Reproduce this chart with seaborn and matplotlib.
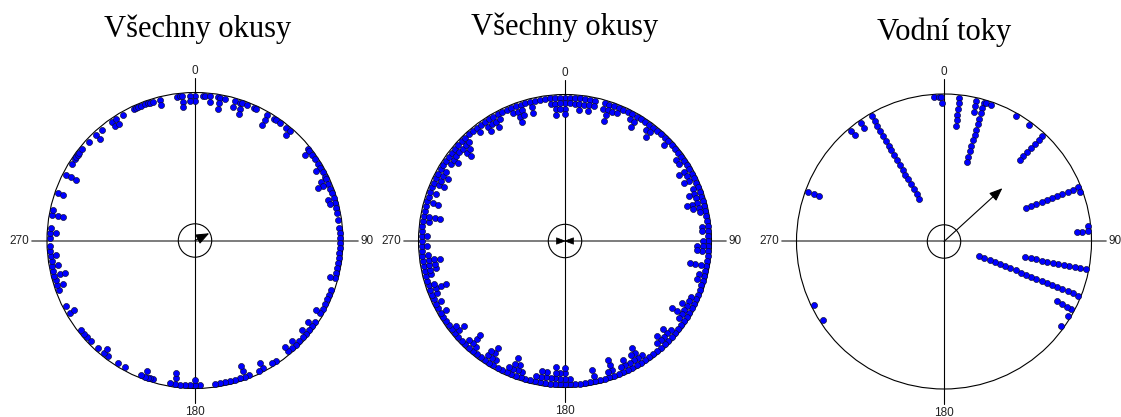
import numpy as np
import pandas as pd
import matplotlib.pyplot as plt
import matplotlib.patches as mpatches
import seaborn as sns

# directions in degrees (clockwise from north) and number of stacked dots
p1_angles = [0, 3, 4, 6, 9, 10, 12, 16, 18, 19, 21, 24, 25, 30, 33, 34, 36, 39, 41,
             51, 52, 54, 56, 58, 60, 62, 64, 65, 67, 69, 71, 73, 75, 77, 79, 82, 85, 87, 89,
             91, 93, 95, 97, 99, 101, 103, 105, 110, 112, 114, 116, 118, 120, 124, 126,
             128, 130, 132, 134, 136, 138, 140, 146, 148, 152, 154, 158, 160, 162, 164,
             166, 168, 170, 172, 178, 180, 182, 184, 186, 188, 190, 197, 198, 199, 200,
             202, 209, 212, 217, 219, 222, 226, 228, 230, 232, 240, 243, 250, 252, 254,
             256, 258, 260, 262, 264, 266, 268, 271, 273, 275, 280, 282, 289, 297, 302,
             304, 305, 306, 307, 309, 313, 317, 320, 325, 327, 330, 335, 336, 337, 338,
             340, 341, 342, 343, 346, 353, 354, 355, 358]
p1_counts = [2, 1, 1, 2, 1, 3, 1, 2, 1, 3, 1, 1, 1, 3, 1, 1, 1, 1, 2,
             1, 2, 1, 1, 1, 2, 1, 1, 2, 3, 1, 1, 2, 2, 1, 1, 1, 1, 1, 1,
             1, 1, 1, 1, 1, 1, 1, 2, 1, 1, 1, 1, 1, 2, 1, 2,
             1, 2, 1, 1, 2, 1, 2, 1, 1, 2, 1, 1, 3, 1, 1,
             1, 1, 1, 1, 1, 2, 1, 1, 1, 3, 1, 1, 1, 1, 2,
             1, 1, 1, 1, 2, 1, 1, 1, 1, 1, 2, 1, 1, 2, 1,
             3, 1, 2, 1, 2, 1, 1, 1, 2, 1, 3, 1, 2, 3, 1,
             1, 1, 1, 1, 1, 1, 2, 1, 2, 2, 1, 1, 1, 1, 1,
             1, 1, 1, 1, 2, 1, 1, 3, 2]

p2_angles = [0, 2, 4, 6, 8, 10, 12, 16, 18, 20, 22, 24, 26, 28, 30, 32, 34, 36, 38,
             40, 42, 44, 46, 48, 50, 52, 54, 56, 58, 60, 62, 64, 66, 68, 70, 72, 74, 76,
             78, 80, 82, 84, 86, 88, 90, 92, 94, 96, 98, 100, 102, 104, 106, 108, 110,
             112, 114, 116, 118, 120, 122, 124, 126, 128, 130, 132, 134, 136, 138, 140,
             142, 144, 146, 148, 150, 152, 154, 156, 158, 160, 162, 164, 166, 168, 170,
             172, 174, 176, 178, 180, 182, 184, 186, 188, 190, 192, 194, 196, 198, 200,
             202, 204, 206, 208, 210, 212, 214, 216, 218, 220, 222, 224, 226, 228, 230,
             232, 234, 236, 238, 240, 242, 244, 246, 248, 250, 252, 254, 256, 258, 260,
             262, 264, 266, 268, 270, 272, 274, 276, 278, 280, 282, 284, 286, 288, 290,
             292, 294, 296, 298, 300, 302, 304, 306, 308, 310, 312, 314, 316, 318, 320,
             322, 324, 326, 328, 330, 332, 334, 336, 338, 340, 342, 344, 346, 348, 350,
             352, 354, 356, 358]
p2_counts = [4, 2, 2, 3, 2, 3, 2, 2, 4, 2, 2, 1, 1, 2, 3, 1, 1, 2, 3,
             1, 1, 1, 2, 1, 1, 1, 2, 2, 1, 3, 2, 3, 1, 2, 3, 2, 4, 3,
             2, 1, 1, 2, 2, 1, 2, 3, 3, 1, 1, 4, 1, 2, 2, 1, 1,
             1, 2, 2, 3, 2, 4, 2, 1, 1, 2, 3, 2, 3, 2, 1,
             1, 1, 2, 4, 3, 2, 3, 2, 1, 4, 2, 1, 1, 3, 1,
             1, 1, 1, 2, 4, 3, 4, 2, 3, 3, 2, 1, 1, 2, 3,
             4, 2, 1, 1, 2, 4, 3, 1, 1, 2, 4, 2, 1, 1, 3,
             2, 1, 1, 1, 2, 1, 2, 1, 2, 4, 2, 1, 2, 3, 3,
             4, 2, 1, 2, 1, 2, 1, 1, 2, 4, 1, 1, 3, 1, 2,
             1, 3, 2, 3, 2, 1, 2, 3, 2, 2, 4, 3, 2, 1, 1,
             2, 1, 3, 2, 3, 2, 1, 1, 2, 4, 3, 1, 3, 1, 1,
             1, 2, 4, 3]

p3_angles = [356, 358, 359, 6, 13, 16, 17, 19, 30, 36, 43, 68, 70, 84, 86, 101, 112,
             118, 121, 126, 237, 244, 290, 320, 325, 330]
p3_counts = [1, 1, 2, 6, 3, 12, 1, 1, 1, 1, 7, 11, 1, 1, 3, 12, 20,
             4, 1, 1, 1, 1, 3, 2, 2, 18]

titles = ['Všechny okusy', 'Všechny okusy', 'Vodní toky']
tick_labels = ['0', '90', '180', '270']
# mean vectors: direction (deg), length relative to radius
mean_dirs = [[63], [90, 270], [47.6]]
mean_lens = [[0.108], [0.0, 0.0], [0.536]]

W, H = 1121, 417
centers = [(195, 240.5), (565, 241), (944, 241.5)]
radii = [148, 146.5, 147.5]
title_pos = [(198, 37), (565, 35), (944, 40)]
dot_d = 5.6
step = 5.6

sns.set_style('white')
fig = plt.figure(figsize=(W / 100, H / 100), dpi=100)
fig.patch.set_facecolor('white')

panels = [(p1_angles, p1_counts), (p2_angles, p2_counts), (p3_angles, p3_counts)]

for i, (angles, counts) in enumerate(panels):
    cx, cy = centers[i]
    R = radii[i]
    half = 1.25 * R
    ax = fig.add_axes([(cx - half) / W, (H - cy - half) / H, 2 * half / W, 2 * half / H])
    ax.set_xlim(-1.25, 1.25)
    ax.set_ylim(-1.25, 1.25)
    ax.axis('off')

    rows = []
    for a, n in zip(angles, counts):
        t = np.deg2rad(a)
        for k in range(n):
            r = 1 - (dot_d / 2 + 0.3 + k * step) / R
            rows.append({'x': r * np.sin(t), 'y': r * np.cos(t)})
    df = pd.DataFrame(rows)

    # crosshair and circles
    ax.plot([-1.1, 1.1], [0, 0], color='0.4', lw=1.2, zorder=1)
    ax.plot([0, 0], [-1.1, 1.1], color='black', lw=0.8, zorder=1)
    ax.add_patch(mpatches.Circle((0, 0), 1, fill=False, ec='black', lw=0.8, zorder=1))
    ax.add_patch(mpatches.Circle((0, 0), 16.7 / R, fill=False, ec='black', lw=0.8, zorder=1))

    sns.scatterplot(data=df, x='x', y='y', ax=ax, s=19, color='#0000ff',
                    edgecolor='#0a0a30', linewidth=0.45, legend=False, zorder=3)

    # mean vector(s)
    if i == 1:
        # axial mean: two heads meeting at the centre
        hl, hw = 8.5 / R, 3.2 / R
        for d in mean_dirs[i]:
            s = np.sin(np.deg2rad(d))
            tri = [(0, 0), (-s * hl, hw), (-s * hl, -hw)]
            ax.add_patch(mpatches.Polygon(tri, closed=True, fc='black', ec='black',
                                          lw=0.5, zorder=4))
    else:
        for d, L in zip(mean_dirs[i], mean_lens[i]):
            t = np.deg2rad(d)
            ax.annotate('', xy=(L * np.sin(t), L * np.cos(t)), xytext=(0, 0),
                        arrowprops=dict(arrowstyle='-|>,head_length=0.4,head_width=0.16',
                                        mutation_scale=20, color='black', lw=0.8,
                                        shrinkA=0, shrinkB=0), zorder=4)

    lab_kw = dict(fontsize=8.5, family='Liberation Sans', color='#222222')
    ax.text(0, 1.147, tick_labels[0], ha='center', va='center', **lab_kw)
    ax.text(1.115, 0, tick_labels[1], ha='left', va='center', **lab_kw)
    ax.text(0, -1.16, tick_labels[2], ha='center', va='center', **lab_kw)
    ax.text(-1.12, 0, tick_labels[3], ha='right', va='center', **lab_kw)

    tx, ty = title_pos[i]
    fig.text(tx / W, 1 - ty / H, titles[i], ha='center', va='baseline',
             fontsize=22, family='Liberation Serif', color='black')

fig.savefig('out.png', dpi=100, facecolor='white')
